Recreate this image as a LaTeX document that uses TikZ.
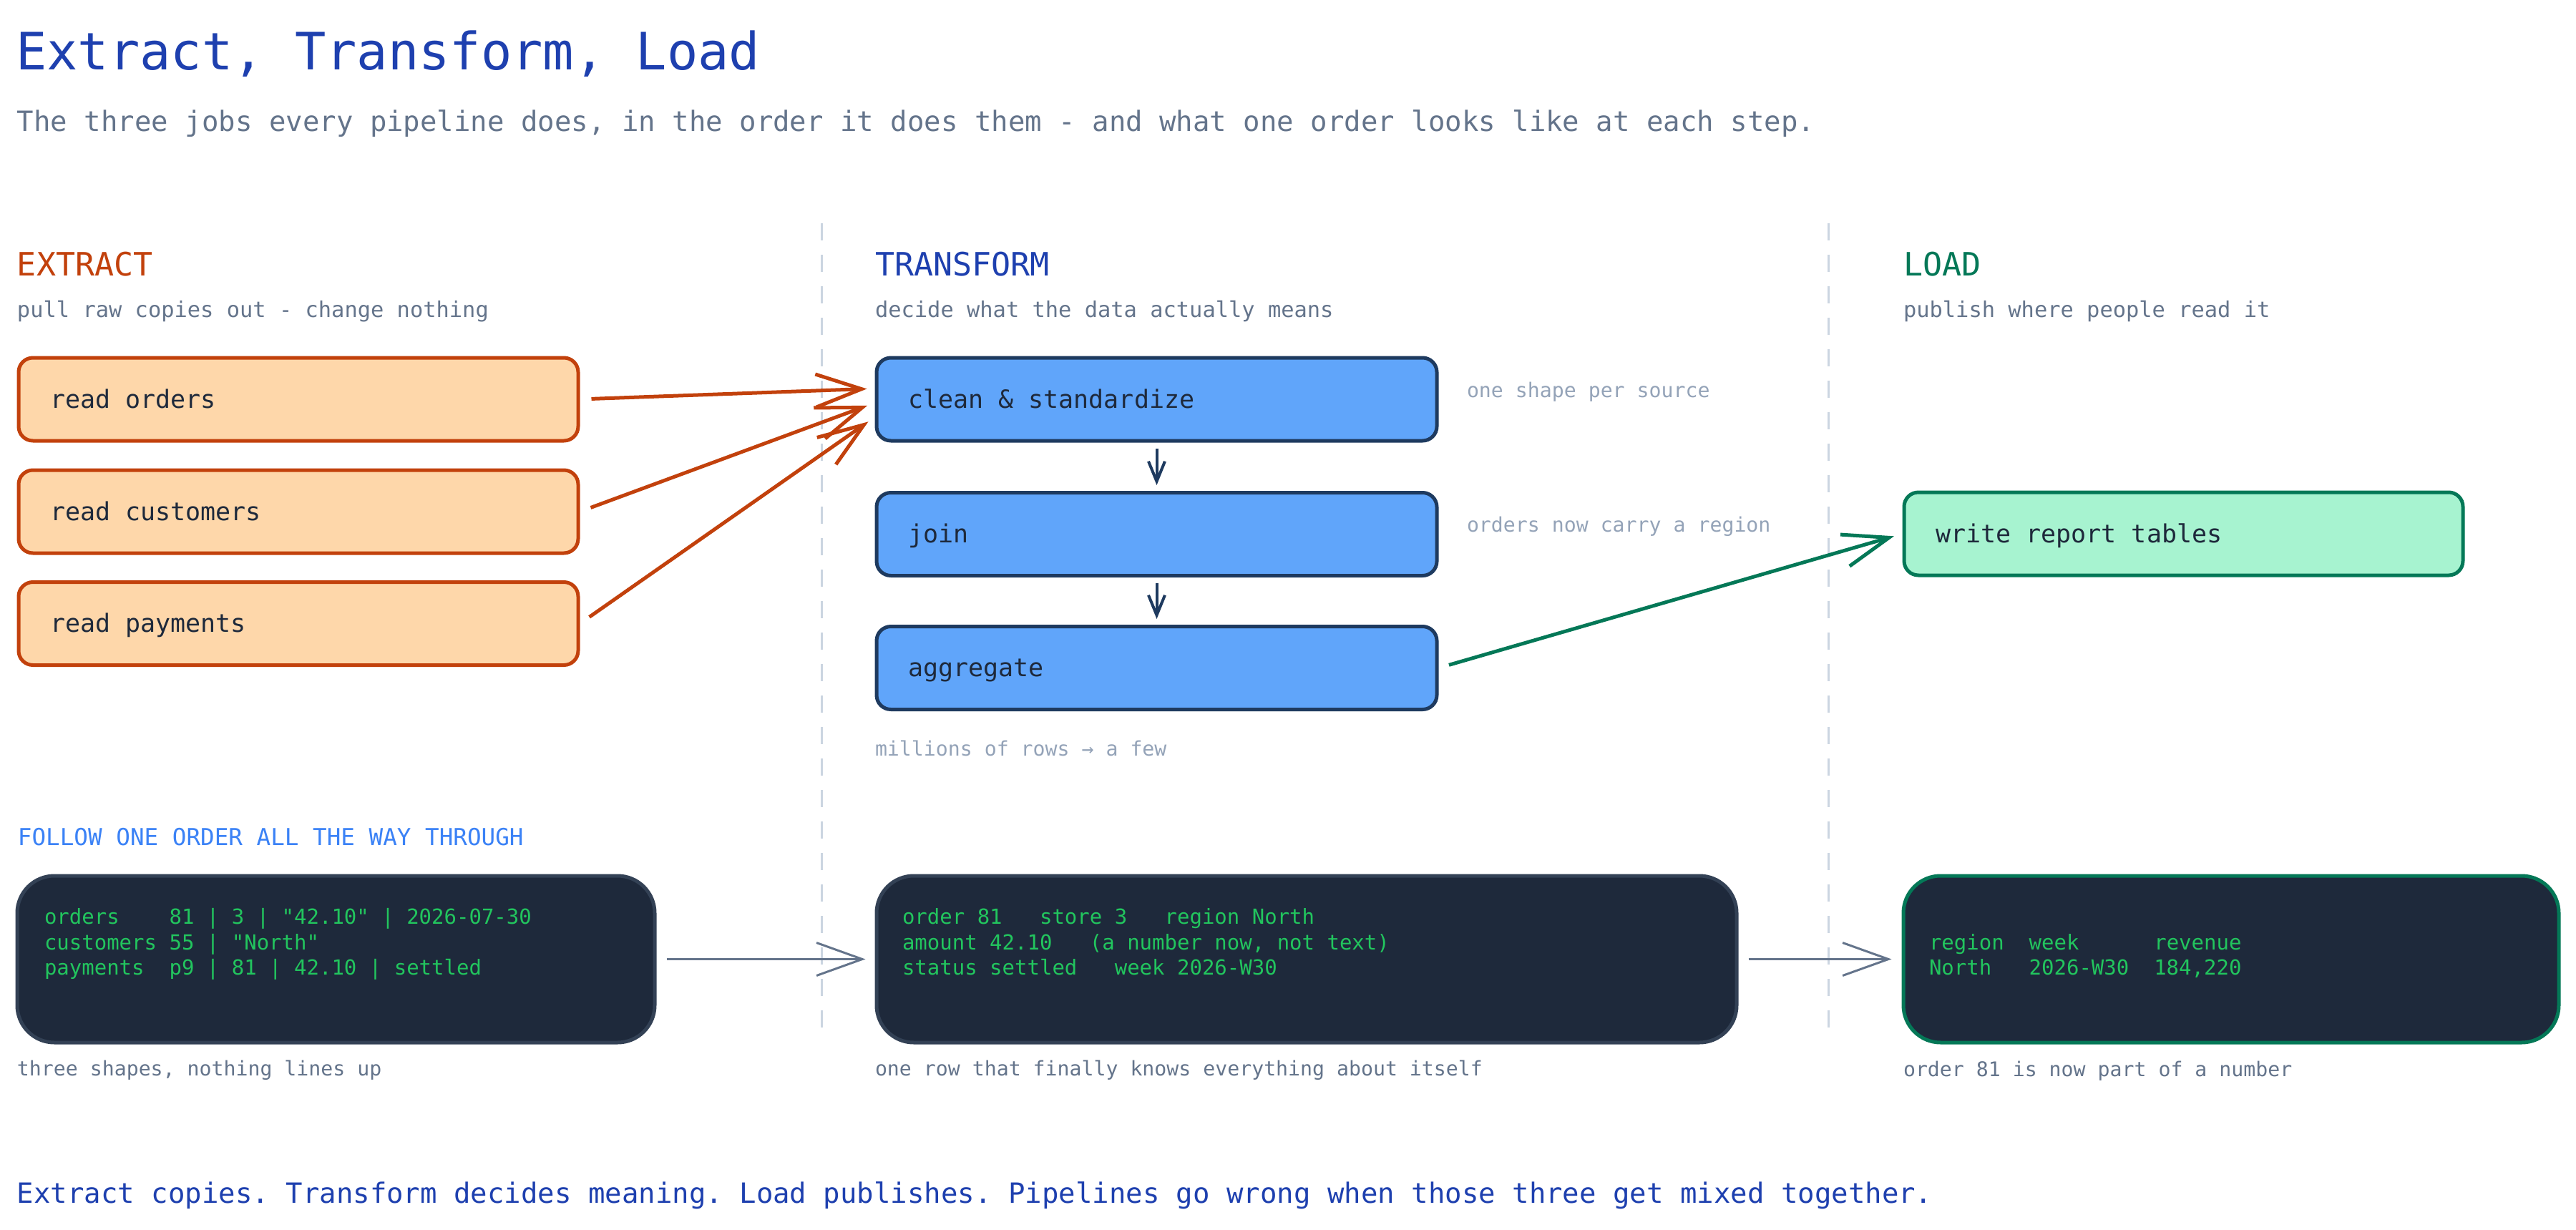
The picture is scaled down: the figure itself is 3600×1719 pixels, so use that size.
\documentclass[tikz,border=0pt]{standalone}
\usepackage{fontspec}
\setmonofont{DejaVu Sans Mono}
\renewcommand{\familydefault}{\ttdefault}
\usetikzlibrary{arrows.meta}
\definecolor{titleblue}{HTML}{1E40AF}
\definecolor{slate}{HTML}{64748B}
\definecolor{notegray}{HTML}{94A3B8}
\definecolor{exstroke}{HTML}{C2410C}
\definecolor{exfill}{HTML}{FED7AA}
\definecolor{trfill}{HTML}{60A5FA}
\definecolor{trstroke}{HTML}{1E3A5F}
\definecolor{ldstroke}{HTML}{047857}
\definecolor{ldfill}{HTML}{A7F3D0}
\definecolor{boxtext}{HTML}{1E293B}
\definecolor{followblue}{HTML}{3B82F6}
\definecolor{darkfill}{HTML}{1E293B}
\definecolor{darkstroke}{HTML}{334155}
\definecolor{codegreen}{HTML}{22C55E}
\definecolor{divider}{HTML}{CBD5E1}
\begin{document}
\begin{tikzpicture}[x=0.5pt,y=-0.5pt,
  txt/.style={anchor=base west, inner sep=0pt, outer sep=0pt},
  titletxt/.style={txt, font=\ttfamily\fontsize{36}{40}\selectfont, text=titleblue},
  subtxt/.style={txt, font=\ttfamily\fontsize{19.5}{23}\selectfont, text=slate},
  headtxt/.style={txt, font=\ttfamily\fontsize{22.5}{26}\selectfont},
  hsubtxt/.style={txt, font=\ttfamily\fontsize{15.2}{18}\selectfont, text=slate},
  notetxt/.style={txt, font=\ttfamily\fontsize{14.1}{17}\selectfont, text=notegray},
  captxt/.style={txt, font=\ttfamily\fontsize{14.1}{17}\selectfont, text=slate},
  codetxt/.style={txt, font=\ttfamily\fontsize{14.5}{18}\selectfont, text=codegreen},
  followtxt/.style={txt, font=\ttfamily\fontsize{16.3}{19}\selectfont, text=followblue},
  stagebox/.style={rounded corners=10pt, line width=2.5pt, minimum height=58pt,
    inner xsep=22pt, inner ysep=0pt, text height=14pt, text depth=2pt,
    text=boxtext, font=\ttfamily\fontsize{17.5}{20}\selectfont},
  exbox/.style={stagebox, draw=exstroke, fill=exfill},
  trbox/.style={stagebox, draw=trstroke, fill=trfill},
  ldbox/.style={stagebox, draw=ldstroke, fill=ldfill},
  darkbox/.style={rounded corners=26pt, line width=2.5pt, minimum height=116.5pt,
    inner sep=0pt, fill=darkfill, draw=#1},
  divline/.style={draw=divider, line width=1.5pt, dash pattern=on 12pt off 10pt},
  bigarrow/.style={line width=2.5pt, -{Straight Barb[length=32pt,width=23pt]}},
  smallarrow/.style={draw=trstroke, line width=2pt, -{Straight Barb[length=14pt,width=11.5pt]}},
  grayarrow/.style={draw=slate, line width=1.5pt, -{Straight Barb[length=32pt,width=23pt]}}
]
\useasboundingbox (0,0) rectangle (3600,1719);
\fill[white] (0,0) rectangle (3600,1719);

% dividers
\coordinate (dv1a) at (1148,312);
\coordinate (dv1b) at (1148,1447);
\coordinate (dv2a) at (2555,312);
\coordinate (dv2b) at (2555,1447);
\draw[divline] (dv1a) -- (dv1b);
\draw[divline] (dv2a) -- (dv2b);

% title
\node[titletxt] (title) at (22,97) {Extract, Transform, Load};
\node[subtxt] (subtitle) at (24,183) {The three jobs every pipeline does, in the order it does them - and what one order looks like at each step.};

% headers
\node[headtxt, text=exstroke] (hE) at (24,385) {EXTRACT};
\node[headtxt, text=titleblue] (hT) at (1223,385) {TRANSFORM};
\node[headtxt, text=ldstroke] (hL) at (2660,385) {LOAD};
\node[hsubtxt] (sE) at (24,443) {pull raw copies out - change nothing};
\node[hsubtxt] (sT) at (1223,443) {decide what the data actually means};
\node[hsubtxt] (sL) at (2660,443) {publish where people read it};

% extract boxes
\node[exbox] (ro) at (417,558) {\makebox[347pt][l]{read orders}};
\node[exbox] (rc) at (417,715) {\makebox[347pt][l]{read customers}};
\node[exbox] (rp) at (417,871.5) {\makebox[347pt][l]{read payments}};

% transform boxes
\node[trbox] (cs) at (1616.5,558) {\makebox[347.5pt][l]{clean \& standardize}};
\node[trbox] (jn) at (1616.5,746.5) {\makebox[347.5pt][l]{join}};
\node[trbox] (ag) at (1616.5,933.5) {\makebox[347.5pt][l]{aggregate}};

% load box
\node[ldbox] (wr) at (3051.5,746) {\makebox[346.5pt][l]{write report tables}};

% notes
\node[notetxt] (n1) at (2050,555) {one shape per source};
\node[notetxt] (n2) at (2050,743) {orders now carry a region};
\node[notetxt] (n3) at (1223,1056) {millions of rows → a few};

% arrows
\draw[bigarrow, draw=exstroke, shorten <=8pt, shorten >=5.5pt] (ro.east) -- ([yshift=7.5pt]cs.west);
\draw[bigarrow, draw=exstroke, shorten <=8pt, shorten >=5.5pt] (rc.east) -- ([yshift=-2.5pt]cs.west);
\draw[bigarrow, draw=exstroke, shorten <=8pt, shorten >=5.5pt] (rp.east) -- ([yshift=-12.5pt]cs.west);
\draw[smallarrow, shorten <=4pt, shorten >=4pt] (cs.south) -- (jn.north);
\draw[smallarrow, shorten <=4pt, shorten >=4pt] (jn.south) -- (ag.north);
\draw[bigarrow, draw=ldstroke, shorten <=7.5pt, shorten >=6pt] (ag.east) -- (wr.west);

% follow one order
\node[followtxt] (follow) at (25,1181) {FOLLOW ONE ORDER ALL THE WAY THROUGH};

\node[darkbox=darkstroke, minimum width=445.5pt] (d1) at (469.5,1340.5) {};
\node[darkbox=darkstroke, minimum width=601pt] (d2) at (1826,1340.5) {};
\node[darkbox=ldstroke, minimum width=458pt] (d3) at (3118,1340.5) {};

\node[codetxt] (c1a) at (62,1291) {orders~~~~81 | 3 | "42.10" | 2026-07-30};
\node[codetxt] (c1b) at (62,1327) {customers 55 | "North"};
\node[codetxt] (c1c) at (62,1362) {payments~~p9 | 81 | 42.10 | settled};

\node[codetxt] (c2a) at (1261,1291) {order 81~~~store 3~~~region North};
\node[codetxt] (c2b) at (1261,1327) {amount 42.10~~~(a number now, not text)};
\node[codetxt] (c2c) at (1261,1362) {status settled~~~week 2026-W30};

\node[codetxt] (c3a) at (2696,1327) {region~~week~~~~~~revenue};
\node[codetxt] (c3b) at (2696,1362) {North~~~2026-W30~~184,220};

\draw[grayarrow, shorten <=7pt, shorten >=6.5pt] (d1.east) -- (d2.west);
\draw[grayarrow, shorten <=7pt, shorten >=7pt] (d2.east) -- (d3.west);

\node[captxt] (k1) at (24,1503) {three shapes, nothing lines up};
\node[captxt] (k2) at (1223,1503) {one row that finally knows everything about itself};
\node[captxt] (k3) at (2660,1504) {order 81 is now part of a number};

\node[subtxt, text=titleblue] (bottom) at (24,1681) {Extract copies. Transform decides meaning. Load publishes. Pipelines go wrong when those three get mixed together.};
\end{tikzpicture}
\end{document}
